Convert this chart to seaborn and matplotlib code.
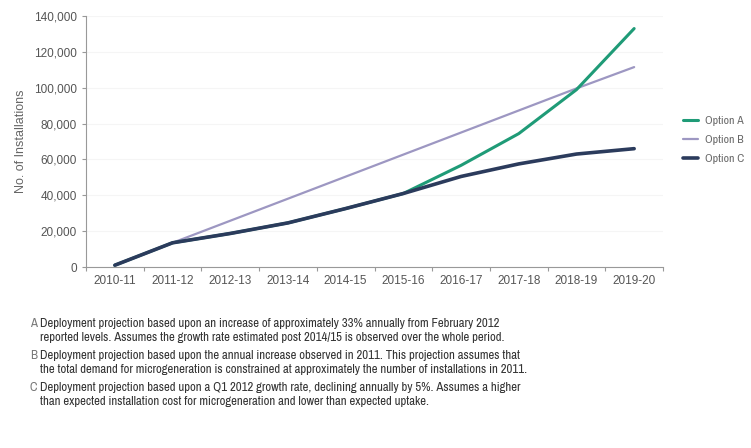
import matplotlib
matplotlib.use("Agg")
import matplotlib.pyplot as plt
import seaborn as sns
import pandas as pd
from matplotlib.ticker import FuncFormatter, FixedLocator, NullFormatter

years = ["2010-11", "2011-12", "2012-13", "2013-14", "2014-15",
         "2015-16", "2016-17", "2017-18", "2018-19", "2019-20"]
option_a = [1000, 13500, 18700, 24600, 32600, 41000, 56700, 74400, 98900, 133000]
option_b = [1000, 13500, 25800, 38100, 50400, 62700, 75000, 87300, 99600, 111500]
option_c = [1000, 13500, 18700, 24600, 32600, 41000, 50500, 57500, 63000, 66000]
series_names = ["Option A", "Option B", "Option C"]
yticks = [0, 20000, 40000, 60000, 80000, 100000, 120000, 140000]

notes = [
    ("A", "Deployment projection based upon an increase of approximately 33% annually from February 2012\n"
          "reported levels. Assumes the growth rate estimated post 2014/15 is observed over the whole period."),
    ("B", "Deployment projection based upon the annual increase observed in 2011. This projection assumes that\n"
          "the total demand for microgeneration is constrained at approximately the number of installations in 2011."),
    ("C", "Deployment projection based upon a Q1 2012 growth rate, declining annually by 5%. Assumes a higher\n"
          "than expected installation cost for microgeneration and lower than expected uptake."),
]

rows = []
for name, vals in zip(series_names, [option_a, option_b, option_c]):
    for i, (y, v) in enumerate(zip(years, vals)):
        rows.append({"idx": i, "year": y, "value": v, "option": name})
df = pd.DataFrame(rows)

sns.set_theme(style="white")
plt.rcParams["font.family"] = ["Liberation Sans", "DejaVu Sans"]
narrow = ["Archivo Narrow", "PT Sans Narrow", "Liberation Sans", "DejaVu Sans"]

fig = plt.figure(figsize=(7.51, 4.48), dpi=100)
ax = fig.add_axes([86/751, 1-267/448, (663-86)/751, (267-16)/448])

palette = {"Option A": "#1f9b77", "Option B": "#9d97c2", "Option C": "#2b3b5c"}
widths = {"Option A": 2.2, "Option B": 1.6, "Option C": 2.6}
# draw in order so C lies on top of A where they overlap
for name in ["Option B", "Option A", "Option C"]:
    sub = df[df.option == name]
    sns.lineplot(data=sub, x="idx", y="value", ax=ax, color=palette[name],
                 lw=widths[name], label=name, legend=False, sort=False)

ax.set_xlim(-0.5, 9.5)
ax.set_ylim(0, 140000)
ax.set_yticks(yticks)
ax.yaxis.set_major_formatter(FuncFormatter(lambda v, p: f"{int(v):,}"))
ax.set_xticks(range(len(years)))
ax.set_xticklabels(years)
ax.xaxis.set_minor_locator(FixedLocator([i + 0.5 for i in range(-1, 10)]))
ax.xaxis.set_minor_formatter(NullFormatter())
ax.tick_params(axis="x", which="major", length=0, pad=6, labelsize=8.5, colors="#555555")
ax.tick_params(axis="x", which="minor", length=3, color="#999999", width=0.8, bottom=True)
ax.tick_params(axis="y", length=3, color="#999999", width=0.8, labelsize=8.5, colors="#555555", left=True)
ax.set_xlabel("")
ax.set_ylabel("No. of Installations", fontsize=9, color="#666666", labelpad=5)
for s in ["top", "right"]:
    ax.spines[s].set_visible(False)
for s in ["left", "bottom"]:
    ax.spines[s].set_color("#999999")
    ax.spines[s].set_linewidth(0.8)
ax.grid(axis="y", color="#f5f5f5", lw=0.8)
ax.set_axisbelow(True)

handles = {l.get_label(): l for l in ax.get_lines()}
leg = ax.legend([handles[n] for n in series_names], series_names,
                loc="upper left", bbox_to_anchor=(678/751, 1-111/448),
                bbox_transform=fig.transFigure, frameon=False,
                prop={"family": narrow, "size": 8.5},
                handlelength=1.3, handletextpad=0.6, labelspacing=0.75, borderaxespad=0)
for t in leg.get_texts():
    t.set_color("#666666")

y0 = 1 - 318/448
step = 32/448
for i, (letter, text) in enumerate(notes):
    y = y0 - i * step
    fig.text(30/751, y, letter, fontsize=9.2, color="#777777", va="top", ha="left",
             family=narrow)
    fig.text(40/751, y, text, fontsize=9.2, color="#333333", va="top", ha="left",
             linespacing=1.28, family=narrow)

fig.savefig("out.png", dpi=100)
